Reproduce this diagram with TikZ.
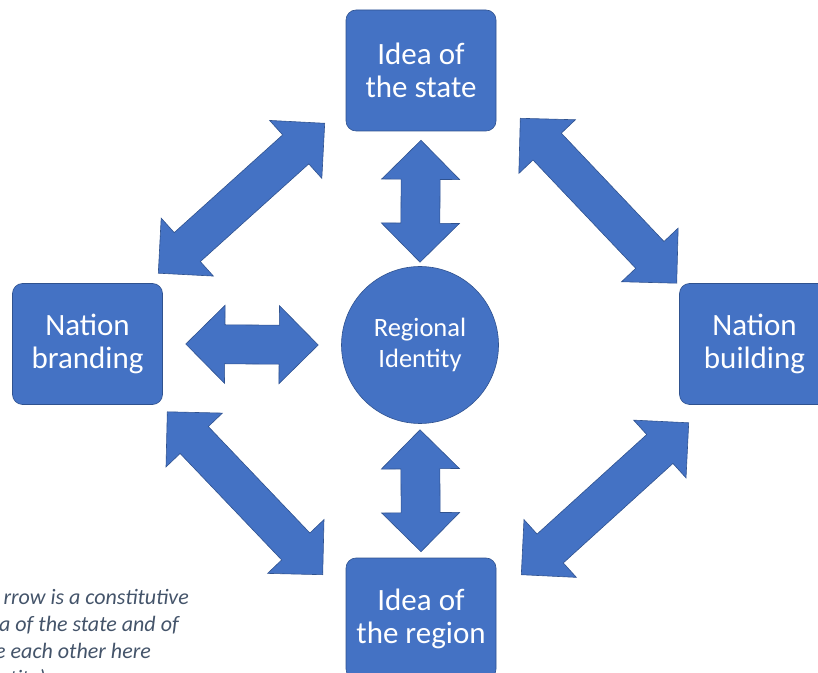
\documentclass[tikz,border=0pt]{standalone}
\usepackage{fontspec}
\setmainfont{Carlito}
\usetikzlibrary{calc}
\definecolor{boxblue}{HTML}{4472C4}
\definecolor{boxline}{HTML}{2F528F}
\definecolor{notegray}{HTML}{44546A}
\tikzset{
  idea/.style={draw=boxline, line width=.6pt, fill=boxblue, rounded corners=10pt,
    minimum width=150pt, minimum height=121pt, text=white, align=center,
    font=\fontsize{31}{33}\selectfont},
  core/.style={circle, draw=boxline, line width=.6pt, fill=boxblue, minimum size=157pt,
    inner sep=0pt, text=white, align=center, font=\fontsize{26.5}{31}\selectfont},
  blockarrow/.style={draw=boxline, line width=.6pt, fill=boxblue},
  note/.style={font=\fontsize{22}{27}\selectfont\itshape, text=notegray, anchor=base east, inner sep=0pt}
}
\newcommand{\dblarrow}[2]{%
  \draw[blockarrow] (#1)
    -- ($(#1)!39pt!(#2)!39pt!90:(#2)$)
    -- ($(#1)!39pt!(#2)!19.5pt!90:(#2)$)
    -- ($(#2)!39pt!(#1)!19.5pt!-90:(#1)$)
    -- ($(#2)!39pt!(#1)!39pt!-90:(#1)$)
    -- (#2)
    -- ($(#2)!39pt!(#1)!39pt!90:(#1)$)
    -- ($(#2)!39pt!(#1)!19.5pt!90:(#1)$)
    -- ($(#1)!39pt!(#2)!19.5pt!-90:(#2)$)
    -- ($(#1)!39pt!(#2)!39pt!-90:(#2)$)
    -- cycle;}

\begin{document}
\begin{tikzpicture}[x=1pt, y=1pt]
  \useasboundingbox (0,0) rectangle (818,672);
  \clip (0,0) rectangle (818,672);
  % boxes
  \node[idea] (state) at (421,601.5) {Idea of\\the state};
  \node[idea] (brand) at (87.5,328) {Nation\\branding};
  \node[idea] (build) at (754.5,328) {Nation\\building};
  \node[idea] (region) at (421,53.5) {Idea of\\the region};
  \node[core] (ri) at (420,327) {Regional\\Identity};
  % arrow ends
  \coordinate (s1) at ([yshift=-9pt]state.south);
  \coordinate (s2) at ([yshift=4pt]ri.north);
  \coordinate (r1) at ([yshift=-6pt]ri.south);
  \coordinate (r2) at ([yshift=6pt]region.north);
  \coordinate (b1) at ([xshift=23pt]brand.east);
  \coordinate (b2) at ([xshift=-23pt]ri.west);
  \coordinate (bs1) at ([shift={(-4.5,10)}]brand.north east);
  \coordinate (bs2) at ([shift={(-21,8)}]state.south west);
  \coordinate (sb1) at ([shift={(24,13)}]state.south east);
  \coordinate (sb2) at ([shift={(-2.5,0)}]build.north west);
  \coordinate (br1) at ([shift={(4.5,-7)}]brand.south east);
  \coordinate (br2) at ([shift={(-23,-17)}]region.north west);
  \coordinate (rb1) at ([shift={(25,-17)}]region.north east);
  \coordinate (rb2) at ([shift={(9.5,-18)}]build.south west);
  % arrows
  \dblarrow{s1}{s2}
  \dblarrow{r1}{r2}
  \dblarrow{b1}{b2}
  \dblarrow{bs1}{bs2}
  \dblarrow{sb1}{sb2}
  \dblarrow{br1}{br2}
  \dblarrow{rb1}{rb2}
  % note
  \node[note] (n1) at (189,68) {rrow is a constitutive};
  \node[note] (n2) at (179,41) {a of the state and of};
  \node[note] (n3) at (151,14) {e each other here};
  \node[note] (n4) at (46,-13) {ntity)};
\end{tikzpicture}
\end{document}
